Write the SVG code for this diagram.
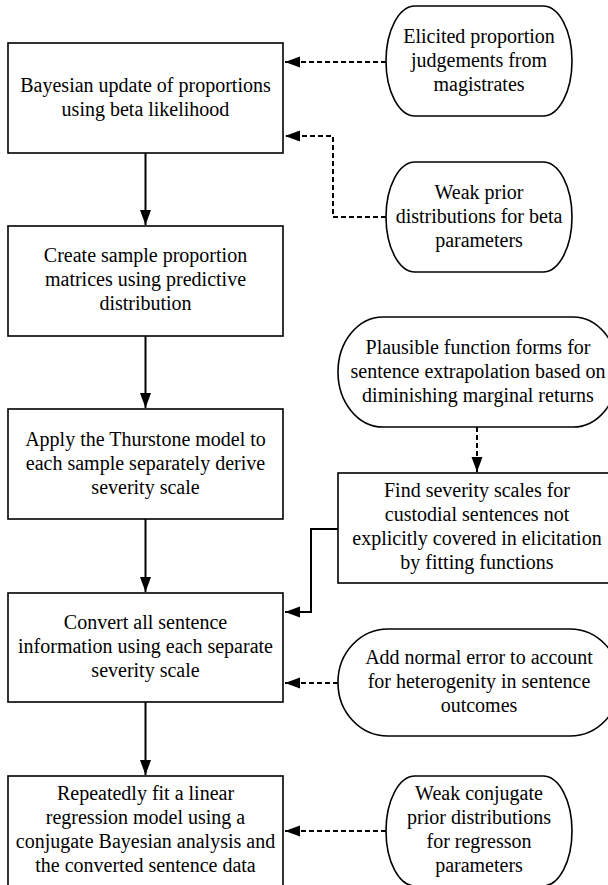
<svg xmlns="http://www.w3.org/2000/svg" width="608" height="885" viewBox="0 0 608 885">
<style>
.box{fill:#fff;stroke:#000;stroke-width:1.6}
.t{font-family:"Liberation Serif","Times New Roman",serif;font-size:20px;fill:#000;text-anchor:middle}
.c{fill:none;stroke:#000;stroke-width:2}
.d{stroke-dasharray:5 3}
</style>
<defs>
<marker id="ah" markerUnits="userSpaceOnUse" markerWidth="16" markerHeight="12" refX="15" refY="6" orient="auto">
<path d="M0,0.5 L15,6 L0,11.5 z" fill="#000"/>
</marker>
</defs>
<rect width="608" height="885" fill="#fff"/>
<g id="connectors">
<path class="c d" d="M386,62 H285" marker-end="url(#ah)"/>
<path class="c d" d="M386,217 H333 V136 H285" marker-end="url(#ah)"/>
<path class="c" d="M145.5,153 V225" marker-end="url(#ah)"/>
<path class="c" d="M145.5,336 V408" marker-end="url(#ah)"/>
<path class="c" d="M145.5,519 V592" marker-end="url(#ah)"/>
<path class="c" d="M145.5,702 V775" marker-end="url(#ah)"/>
<path class="c d" d="M477,427 V472" marker-end="url(#ah)"/>
<path class="c" d="M338,529 H311 V612 H285" marker-end="url(#ah)"/>
<path class="c d" d="M338,683 H285" marker-end="url(#ah)"/>
<path class="c d" d="M386,831 H285" marker-end="url(#ah)"/>
</g>
<g id="bayesian-update">
<rect class="box" x="8" y="43" width="275" height="110"/>
<text class="t" x="145.5" y="92">Bayesian update of proportions</text>
<text class="t" x="145.5" y="116">using beta likelihood</text>
</g>
<g id="sample-matrices">
<rect class="box" x="8" y="226" width="275" height="110"/>
<text class="t" x="145.5" y="262">Create sample proportion</text>
<text class="t" x="145.5" y="286">matrices using predictive</text>
<text class="t" x="145.5" y="310">distribution</text>
</g>
<g id="thurstone">
<rect class="box" x="8" y="409" width="275" height="110"/>
<text class="t" x="145.5" y="446">Apply the Thurstone model to</text>
<text class="t" x="145.5" y="470">each sample separately derive</text>
<text class="t" x="145.5" y="494">severity scale</text>
</g>
<g id="convert">
<rect class="box" x="8" y="593" width="275" height="109"/>
<text class="t" x="145.5" y="629">Convert all sentence</text>
<text class="t" x="145.5" y="653">information using each separate</text>
<text class="t" x="145.5" y="677">severity scale</text>
</g>
<g id="regression">
<rect class="box" x="8" y="776" width="275" height="110"/>
<text class="t" x="145.5" y="800">Repeatedly fit a linear</text>
<text class="t" x="145.5" y="824">regression model using a</text>
<text class="t" x="145.5" y="848">conjugate Bayesian analysis and</text>
<text class="t" x="145.5" y="872">the converted sentence data</text>
</g>
<g id="elicited">
<rect class="box" x="386" y="6" width="186" height="110" rx="29" ry="55"/>
<text class="t" x="479" y="43">Elicited proportion</text>
<text class="t" x="479" y="67">judgements from</text>
<text class="t" x="479" y="91">magistrates</text>
</g>
<g id="weak-prior">
<rect class="box" x="386" y="162" width="186" height="110" rx="29" ry="55"/>
<text class="t" x="479" y="199">Weak prior</text>
<text class="t" x="479" y="223">distributions for beta</text>
<text class="t" x="479" y="247">parameters</text>
</g>
<g id="plausible">
<rect class="box" x="338" y="317" width="280" height="110" rx="45" ry="55"/>
<text class="t" x="478" y="354">Plausible function forms for</text>
<text class="t" x="478" y="378">sentence extrapolation based on</text>
<text class="t" x="478" y="402">diminishing marginal returns</text>
</g>
<g id="find-scales">
<rect class="box" x="338" y="473" width="276" height="110"/>
<text class="t" x="477" y="497">Find severity scales for</text>
<text class="t" x="477" y="521">custodial sentences not</text>
<text class="t" x="477" y="545">explicitly covered in elicitation</text>
<text class="t" x="477" y="569">by fitting functions</text>
</g>
<g id="normal-error">
<rect class="box" x="338" y="629" width="282" height="107" rx="50" ry="53"/>
<text class="t" x="479" y="664">Add normal error to account</text>
<text class="t" x="479" y="688">for heterogenity in sentence</text>
<text class="t" x="479" y="712">outcomes</text>
</g>
<g id="weak-conjugate">
<rect class="box" x="386" y="776" width="186" height="110" rx="29" ry="55"/>
<text class="t" x="479" y="800">Weak conjugate</text>
<text class="t" x="479" y="824">prior distributions</text>
<text class="t" x="479" y="848">for regresson</text>
<text class="t" x="479" y="872">parameters</text>
</g>
</svg>
